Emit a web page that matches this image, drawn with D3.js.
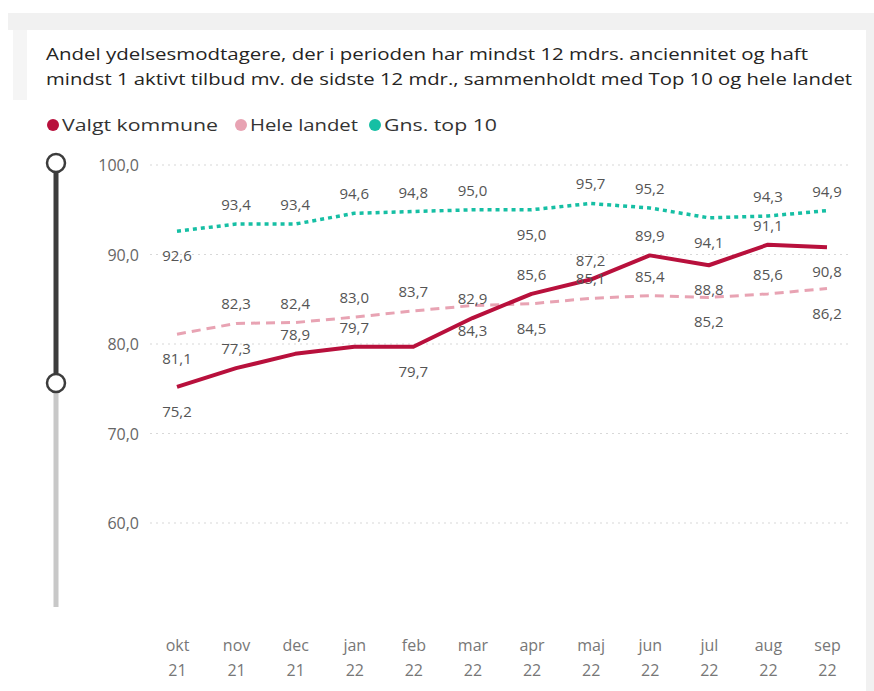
<!DOCTYPE html>
<html>
<head>
<meta charset="utf-8">
<script src="https://cdn.jsdelivr.net/npm/d3@7"></script>
<style>
  html, body { margin: 0; padding: 0; background: #ffffff; }
  svg { display: block; }
  text { font-family: "Open Sans", "Noto Sans", sans-serif; }
</style>
</head>
<body>
<svg id="chart" width="874" height="691"></svg>
<script>
// ---- Data ----
const months = ["okt 21", "nov 21", "dec 21", "jan 22", "feb 22", "mar 22", "apr 22", "maj 22", "jun 22", "jul 22", "aug 22", "sep 22"];
const valgtKommune = [75.2, 77.3, 78.9, 79.7, 79.7, 82.9, 85.6, 87.2, 89.9, 88.8, 91.1, 90.8];
const heleLandet   = [81.1, 82.3, 82.4, 83.0, 83.7, 84.3, 84.5, 85.1, 85.4, 85.2, 85.6, 86.2];
const gnsTop10     = [92.6, 93.4, 93.4, 94.6, 94.8, 95.0, 95.0, 95.7, 95.2, 94.1, 94.3, 94.9];
const yTicks = [60, 70, 80, 90, 100];
const seriesNames = ["Valgt kommune", "Hele landet", "Gns. top 10"];
const titleLines = [
  "Andel ydelsesmodtagere, der i perioden har mindst 12 mdrs. anciennitet og haft",
  "mindst 1 aktivt tilbud mv. de sidste 12 mdr., sammenholdt med Top 10 og hele landet"
];

// label placement (a = above, b = below), as in the reference
const placeRed  = ["b","a","a","a","b","a","a","a","a","b","a","b"];
const placePink = ["b","a","a","a","a","b","b","a","a","b","a","b"];
const placeTeal = ["b","a","a","a","a","a","b","a","a","b","a","a"];

const colors = { red: "#b8103c", pink: "#e8a3b3", teal: "#16bfa4" };

const svg = d3.select("#chart");

// ---- Frame ----
svg.append("rect").attr("x", 0).attr("y", 0).attr("width", 874).attr("height", 691).attr("fill", "#ffffff");
svg.append("rect").attr("x", 8).attr("y", 13).attr("width", 866).attr("height", 17).attr("fill", "#f1f1f1");
svg.append("rect").attr("x", 866).attr("y", 13).attr("width", 8).attr("height", 678).attr("fill", "#f1f1f1");
svg.append("rect").attr("x", 13).attr("y", 30).attr("width", 14).attr("height", 70).attr("fill", "#f5f5f5");

// ---- Title ----
const title = svg.append("g");
title.append("text").attr("x", 46).attr("y", 60).attr("font-size", 16.5).attr("fill", "#252423")
  .attr("textLength", 762).attr("lengthAdjust", "spacingAndGlyphs").text(titleLines[0]);
title.append("text").attr("x", 46).attr("y", 85).attr("font-size", 16.5).attr("fill", "#252423")
  .attr("textLength", 806).attr("lengthAdjust", "spacingAndGlyphs").text(titleLines[1]);

// ---- Legend ----
const legendItems = [
  { name: seriesNames[0], color: colors.red, cx: 53, tx: 62, len: 156 },
  { name: seriesNames[1], color: colors.pink, cx: 241, tx: 250, len: 108 },
  { name: seriesNames[2], color: colors.teal, cx: 375, tx: 384, len: 113 }
];
const lg = svg.append("g");
legendItems.forEach(d => {
  lg.append("circle").attr("cx", d.cx).attr("cy", 125).attr("r", 6).attr("fill", d.color);
  lg.append("text").attr("x", d.tx).attr("y", 131).attr("font-size", 16).attr("fill", "#333")
    .attr("textLength", d.len).attr("lengthAdjust", "spacingAndGlyphs").text(d.name);
});

// ---- Scales ----
const x = d3.scalePoint().domain(months).range([177, 827]);
const y = d3.scaleLinear().domain([60, 100]).range([523, 165]);

// ---- Gridlines ----
const grid = svg.append("g");
grid.selectAll("line").data(yTicks).join("line")
  .attr("x1", 150).attr("x2", 852)
  .attr("y1", d => y(d)).attr("y2", d => y(d))
  .attr("stroke", "#d8d8d8").attr("stroke-width", 1.2).attr("stroke-dasharray", "2,4");

// ---- Y axis ----
const yAxis = d3.axisLeft(y).tickValues(yTicks).tickSize(0).tickPadding(0)
  .tickFormat(d => d3.format(".1f")(d).replace(".", ","));
const yg = svg.append("g").attr("transform", "translate(139,0)").call(yAxis);
yg.select(".domain").remove();
yg.selectAll("text").attr("font-size", 16).attr("fill", "#666").attr("font-family", "'Open Sans', sans-serif").attr("dy", "0.35em");

// ---- X axis ----
const xAxis = d3.axisBottom(x).tickSize(0).tickFormat("");
const xg = svg.append("g").attr("transform", "translate(0,630)").call(xAxis);
xg.select(".domain").remove();
xg.selectAll(".tick").each(function(d) {
  const parts = d.split(" ");
  const t = d3.select(this);
  t.append("text").attr("y", 21).attr("text-anchor", "middle").attr("font-size", 16).attr("fill", "#777").text(parts[0]);
  t.append("text").attr("y", 46).attr("text-anchor", "middle").attr("font-size", 16).attr("fill", "#777").text(parts[1]);
});

// ---- Slider ----
const slider = svg.append("g");
slider.append("line").attr("x1", 56).attr("x2", 56).attr("y1", 383).attr("y2", 607)
  .attr("stroke", "#c8c8c8").attr("stroke-width", 5);
slider.append("line").attr("x1", 56).attr("x2", 56).attr("y1", 163).attr("y2", 383)
  .attr("stroke", "#3c3c3c").attr("stroke-width", 5);
[163, 383].forEach(cy => {
  slider.append("circle").attr("cx", 56).attr("cy", cy).attr("r", 9)
    .attr("fill", "#ffffff").attr("stroke", "#3c3c3c").attr("stroke-width", 2.5);
});

// ---- Lines ----
const line = d3.line().x((d, i) => x(months[i])).y(d => y(d));
const series = [
  { values: heleLandet, color: colors.pink, width: 3, dash: "9,6", place: placePink },
  { values: gnsTop10, color: colors.teal, width: 3.5, dash: "4,4", place: placeTeal },
  { values: valgtKommune, color: colors.red, width: 4, dash: null, place: placeRed }
];
series.forEach(s => {
  svg.append("path").datum(s.values).attr("d", line).attr("fill", "none")
    .attr("stroke", s.color).attr("stroke-width", s.width)
    .attr("stroke-dasharray", s.dash).attr("stroke-linejoin", "round");
});

// ---- Data labels ----
const fmt = v => d3.format(".1f")(v).replace(".", ",");
const lab = svg.append("g");
series.forEach(s => {
  lab.selectAll(null).data(s.values).join("text")
    .attr("x", (d, i) => x(months[i]))
    .attr("y", (d, i) => y(d) + (s.place[i] === "a" ? -14 : 30))
    .attr("text-anchor", "middle").attr("font-size", 15).attr("fill", "#555")
    .text(d => fmt(d));
});
</script>
</body>
</html>
